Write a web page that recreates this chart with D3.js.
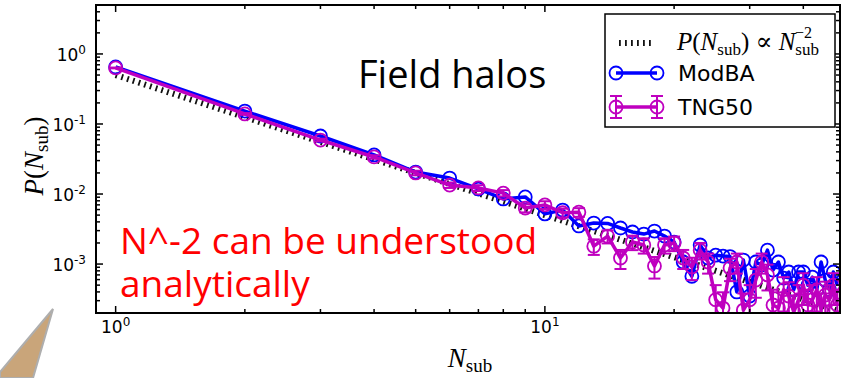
<!DOCTYPE html>
<html><head><meta charset="utf-8">
<script src="https://cdn.jsdelivr.net/npm/d3@7"></script>
<style>
html,body{margin:0;padding:0;background:#fff;}
svg{display:block;}
</style></head>
<body>
<svg id="chart" width="850" height="378"></svg>
<script>
// Number of subhaloes per host
const nSub = [1,2,3,4,5,6,7,8,9,10,11,12,13,14,15,16,17,18,19,20,21,22,23,24,
              25,26,27,28,29,30,31,32,33,34,35,36,37,38,39,40,41,42,43,44,45,46,47,48];

// Probability P(N_sub) — ModBA model
const modBA = [0.652,0.153,0.0674,0.0361,0.0206,0.0169,0.0118,0.0085,0.0091,0.0052,
               0.0059,0.0035,0.00385,0.0038,0.00327,0.00287,0.00268,0.00296,0.00251,0.00206,
               0.00107,0.00067,0.00187,0.00122,0.00134,0.0013,0.00128,0.0004,0.00114,0.00035,
               0.00107,0.00097,0.00158,0.00082,0.00107,0.00063,0.00077,0.00043,0.00077,0.00077,
               0.0005,0.00065,0.00043,0.00107,0.00059,0.00043,0.00077,0.0005];

// Probability P(N_sub) — TNG50 field haloes, with 1-sigma errors
const tng50 = [0.631,0.139,0.059,0.0338,0.02,0.0134,0.0122,0.0103,0.0063,0.007,
               0.0054,0.0055,0.0018,0.0025,0.00122,0.00206,0.00187,0.00094,0.00187,0.002,
               0.00122,0.00091,0.00158,0.00107,0.00031,0.000235,0.00088,0.00107,0.00022,0.00031,
               0.00059,0.00107,0.0007,0.00026,0.000235,0.00043,0.00035,0.000206,0.00031,0.0005,
               0.00026,0.00031,0.00043,0.00022,0.00036,0.00031,0.0005,0.00026];
const tng50Err = [0.0084,0.0039,0.0026,0.0019,0.0015,0.0012,0.00116,0.00107,0.00084,0.00088,
                  0.00077,0.00078,0.00045,0.00053,0.00037,0.00048,0.00046,0.00032,0.00046,0.00047,
                  0.00037,0.00032,0.00042,0.00034,0.00019,0.00016,0.00031,0.00034,0.00016,0.00019,
                  0.00026,0.00034,0.00028,0.00017,0.00016,0.00022,0.0002,0.00015,0.00019,0.00024,
                  0.00017,0.00019,0.00022,0.00016,0.0002,0.00019,0.00024,0.00017];

// Reference power law P ∝ N^-2, normalisation
const powerLawNorm = 0.5;
const powerLawRange = [1, 48];

// Axis ticks (decades)
const xMajorTicks = [1, 10];
const xTickExp = ["0", "1"];
const yMajorTicks = [1, 0.1, 0.01, 0.001];
const yTickExp = ["0", "-1", "-2", "-3"];

const svg = d3.select("#chart");
const L = 96, R = 840, T = 5, B = 313;

const x = d3.scaleLog().domain([0.9, 48.7]).range([L, R]);
const y = d3.scaleLog().domain([2e-4, 5]).range([B, T]);

const BLUE = "#0000ff", MAG = "#bf00bf";

svg.append("defs").append("clipPath").attr("id", "plotClip")
  .append("rect").attr("x", L).attr("y", T).attr("width", R - L).attr("height", B - T);

const plot = svg.append("g").attr("clip-path", "url(#plotClip)");

// power-law guide
const plData = nSub.filter(n => n >= powerLawRange[0] && n <= powerLawRange[1])
  .map(n => [n, powerLawNorm / (n * n)]);
plot.append("path")
  .attr("d", d3.line().x(d => x(d[0])).y(d => y(d[1]))(plData))
  .attr("fill", "none").attr("stroke", "#111").attr("stroke-width", 6)
  .attr("stroke-dasharray", "1.8,4.2");

// ModBA
const line = d3.line().x(d => x(d[0])).y(d => y(d[1]));
const modData = nSub.map((n, i) => [n, modBA[i]]);
plot.append("path").attr("d", line(modData))
  .attr("fill", "none").attr("stroke", BLUE).attr("stroke-width", 3.5)
  .attr("stroke-linejoin", "round");
plot.selectAll("circle.mod").data(modData).join("circle").attr("class", "mod")
  .attr("cx", d => x(d[0])).attr("cy", d => y(d[1])).attr("r", 6.5)
  .attr("fill", "none").attr("stroke", BLUE).attr("stroke-width", 1.8);

// TNG50 with error bars
const tngData = nSub.map((n, i) => ({n, p: tng50[i], e: tng50Err[i]}));
const yLow = d => (d.p - d.e > 0 ? y(d.p - d.e) : B + 20);
const eb = plot.append("g");
eb.selectAll("line.v").data(tngData).join("line").attr("class", "v")
  .attr("x1", d => x(d.n)).attr("x2", d => x(d.n))
  .attr("y1", d => y(d.p + d.e)).attr("y2", yLow)
  .attr("stroke", MAG).attr("stroke-width", 2);
eb.selectAll("line.cu").data(tngData).join("line").attr("class", "cu")
  .attr("x1", d => x(d.n) - 6).attr("x2", d => x(d.n) + 6)
  .attr("y1", d => y(d.p + d.e)).attr("y2", d => y(d.p + d.e))
  .attr("stroke", MAG).attr("stroke-width", 2);
eb.selectAll("line.cl").data(tngData.filter(d => d.p - d.e > 0)).join("line").attr("class", "cl")
  .attr("x1", d => x(d.n) - 6).attr("x2", d => x(d.n) + 6)
  .attr("y1", yLow).attr("y2", yLow)
  .attr("stroke", MAG).attr("stroke-width", 2);
plot.append("path").attr("d", line(tngData.map(d => [d.n, d.p])))
  .attr("fill", "none").attr("stroke", MAG).attr("stroke-width", 3.5)
  .attr("stroke-linejoin", "round");
plot.selectAll("circle.tng").data(tngData).join("circle").attr("class", "tng")
  .attr("cx", d => x(d.n)).attr("cy", d => y(d.p)).attr("r", 6.5)
  .attr("fill", "none").attr("stroke", MAG).attr("stroke-width", 1.8);

// frame
svg.append("rect").attr("x", L).attr("y", T).attr("width", R - L).attr("height", B - T)
  .attr("fill", "none").attr("stroke", "#000").attr("stroke-width", 2);

// ticks on all four sides, pointing inward
const ticks = svg.append("g").attr("stroke", "#000").attr("stroke-width", 1.5);
const xMinor = [];
[1, 10].forEach(dec => { for (let k = 1; k <= 9; k++) { const v = k * dec; if (v > 0.9 && v < 48.7) xMinor.push([v, k === 1]); } });
xMinor.forEach(([v, major]) => {
  const len = major ? 7 : 4;
  ticks.append("line").attr("x1", x(v)).attr("x2", x(v)).attr("y1", B).attr("y2", B - len);
  ticks.append("line").attr("x1", x(v)).attr("x2", x(v)).attr("y1", T).attr("y2", T + len);
});
const yMinor = [];
[0.0001, 0.001, 0.01, 0.1, 1].forEach(dec => { for (let k = 1; k <= 9; k++) { const v = k * dec; if (v > 2e-4 && v < 5) yMinor.push([v, k === 1]); } });
yMinor.forEach(([v, major]) => {
  const len = major ? 7 : 4;
  ticks.append("line").attr("y1", y(v)).attr("y2", y(v)).attr("x1", L).attr("x2", L + len);
  ticks.append("line").attr("y1", y(v)).attr("y2", y(v)).attr("x1", R).attr("x2", R - len);
});

// tick labels
const tickFont = "DejaVu Sans, sans-serif";
xMajorTicks.forEach((v, i) => {
  const t = svg.append("text").attr("x", x(v)).attr("y", 333).attr("text-anchor", "middle")
    .attr("font-family", tickFont).attr("font-size", 17).attr("fill", "#000");
  t.append("tspan").text("10");
  t.append("tspan").attr("dy", -7).attr("font-size", 12).text(xTickExp[i]);
});
yMajorTicks.forEach((v, i) => {
  const t = svg.append("text").attr("x", 86).attr("y", y(v) + 7).attr("text-anchor", "end")
    .attr("font-family", tickFont).attr("font-size", 17).attr("fill", "#000");
  t.append("tspan").text("10");
  t.append("tspan").attr("dy", -7).attr("font-size", 12).text(yTickExp[i]);
});

// axis labels
const serif = "Liberation Serif, DejaVu Serif, serif";
const xl = svg.append("text").attr("x", 470).attr("y", 367).attr("text-anchor", "middle")
  .attr("font-family", serif).attr("font-size", 27).attr("fill", "#000");
xl.append("tspan").attr("font-style", "italic").text("N");
xl.append("tspan").attr("dy", 5).attr("font-size", 19).text("sub");

const yl = svg.append("text").attr("transform", "translate(43,156) rotate(-90)")
  .attr("text-anchor", "middle").attr("font-family", serif).attr("font-size", 27).attr("fill", "#000");
yl.append("tspan").attr("font-style", "italic").text("P");
yl.append("tspan").text("(");
yl.append("tspan").attr("font-style", "italic").text("N");
yl.append("tspan").attr("dy", 5).attr("font-size", 19).text("sub");
yl.append("tspan").attr("dy", -5).text(")");

// legend
const lg = svg.append("g");
lg.append("rect").attr("x", 605).attr("y", 14).attr("width", 230).attr("height", 113)
  .attr("fill", "#fff").attr("stroke", "#000").attr("stroke-width", 1.5);
lg.append("line").attr("x1", 619).attr("x2", 653).attr("y1", 43).attr("y2", 43)
  .attr("stroke", "#111").attr("stroke-width", 6).attr("stroke-dasharray", "1.8,4.2");
const lt = lg.append("text").attr("x", 677).attr("y", 50).attr("font-family", serif)
  .attr("font-size", 25).attr("fill", "#000");
lt.append("tspan").attr("font-style", "italic").text("P");
lt.append("tspan").text("(");
lt.append("tspan").attr("font-style", "italic").text("N");
lt.append("tspan").attr("dy", 5).attr("font-size", 17).text("sub");
lt.append("tspan").attr("dy", -5).text(") ∝ ");
lt.append("tspan").attr("font-style", "italic").text("N");
lt.append("tspan").attr("dy", 5).attr("font-size", 17).text("sub");
lt.append("tspan").attr("dx", -24).attr("dy", -17).attr("font-size", 16).text("−2");

lg.append("line").attr("x1", 616).attr("x2", 657).attr("y1", 73).attr("y2", 73)
  .attr("stroke", BLUE).attr("stroke-width", 3.5);
[616, 657].forEach(cx => lg.append("circle").attr("cx", cx).attr("cy", 73).attr("r", 6.5)
  .attr("fill", "none").attr("stroke", BLUE).attr("stroke-width", 1.8));
lg.append("text").attr("x", 678).attr("y", 81).attr("font-family", tickFont)
  .attr("font-size", 22).attr("fill", "#000").text("ModBA");

[616, 657].forEach(cx => {
  lg.append("line").attr("x1", cx).attr("x2", cx).attr("y1", 96).attr("y2", 118).attr("stroke", MAG).attr("stroke-width", 2);
  lg.append("line").attr("x1", cx - 6).attr("x2", cx + 6).attr("y1", 96).attr("y2", 96).attr("stroke", MAG).attr("stroke-width", 2);
  lg.append("line").attr("x1", cx - 6).attr("x2", cx + 6).attr("y1", 118).attr("y2", 118).attr("stroke", MAG).attr("stroke-width", 2);
});
lg.append("line").attr("x1", 616).attr("x2", 657).attr("y1", 107).attr("y2", 107)
  .attr("stroke", MAG).attr("stroke-width", 3.5);
[616, 657].forEach(cx => lg.append("circle").attr("cx", cx).attr("cy", 107).attr("r", 6.5)
  .attr("fill", "none").attr("stroke", MAG).attr("stroke-width", 1.8));
lg.append("text").attr("x", 678).attr("y", 115).attr("font-family", tickFont)
  .attr("font-size", 22).attr("fill", "#000").text("TNG50");

// annotations
svg.append("text").attr("x", 358).attr("y", 88).attr("font-family", "Open Sans, sans-serif")
  .attr("font-size", 38).attr("fill", "#000").text("Field halos");
const note = svg.append("text").attr("font-family", "Open Sans, sans-serif")
  .attr("font-size", 37).attr("fill", "#ff0000");
note.append("tspan").attr("x", 120).attr("y", 254).text("N^-2 can be understood");
note.append("tspan").attr("x", 120).attr("y", 297).text("analytically");

// pointer shape in the corner
svg.append("polygon").attr("points", "53,309 0,372 0,378 33,378")
  .attr("fill", "#c9a57a").attr("stroke", "#aeaeae").attr("stroke-width", 2);
</script>
</body></html>
